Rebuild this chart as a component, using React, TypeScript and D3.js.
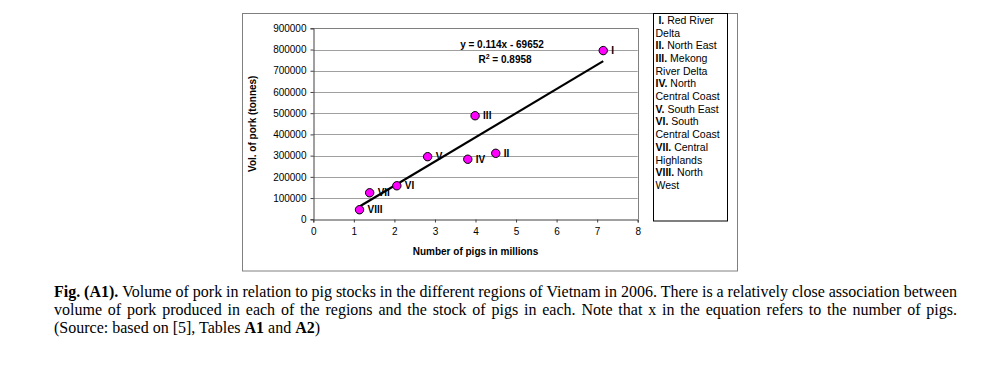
import { useRef, useEffect } from "react";
import * as d3 from "d3";

// regions of Vietnam, 2006
const regionIds = ["I", "II", "III", "IV", "V", "VI", "VII", "VIII"];
const pigsMillions = [7.15, 4.5, 3.99, 3.81, 2.82, 2.06, 1.39, 1.14];
const porkTonnes = [795000, 311000, 488000, 283000, 295000, 158000, 125000, 45000];

const legendLines: [string, string][] = [
  [" I.", " Red River"],
  ["", "Delta"],
  ["II.", " North East"],
  ["III.", " Mekong"],
  ["", "River Delta"],
  ["IV.", " North"],
  ["", "Central Coast"],
  ["V.", " South East"],
  ["VI.", " South"],
  ["", "Central Coast"],
  ["VII.", " Central"],
  ["", "Highlands"],
  ["VIII.", " North"],
  ["", "West"],
];

const slope = 0.114;
const intercept = -69652;
const equationText = "y = 0.114x - 69652";
const r2Text = "0.8958";

const xTicks = [0, 1, 2, 3, 4, 5, 6, 7, 8];
const yTicks = [0, 100000, 200000, 300000, 400000, 500000, 600000, 700000, 800000, 900000];

// caption
const captionLine1 = "Fig. (A1). Volume of pork in relation to pig stocks in the different regions of Vietnam in 2006. There is a relatively close association between";
const captionLine2 = "volume of pork produced in each of the regions and the stock of pigs in each. Note that x in the equation refers to the number of pigs.";
const captionBoldWords = ["Fig.", "(A1)."];

const App = () => {
  const svgRef = useRef<SVGSVGElement>(null);

  useEffect(() => {
    const svg = d3.select(svgRef.current);
    svg.selectAll("*").remove();

    const sans = "'Liberation Sans', Arial, sans-serif";
    const serif = "'Liberation Serif', 'Times New Roman', serif";

    const plot = { left: 313.3, right: 637.7, top: 28.3, bottom: 219.3 };

    const xScale = d3.scaleLinear().domain([0, 8]).range([plot.left, plot.right]);
    const yScale = d3.scaleLinear().domain([0, 900000]).range([plot.bottom, plot.top]);

    // outer chart frame
    svg
      .append("rect")
      .attr("x", 242.5)
      .attr("y", 13.5)
      .attr("width", 495)
      .attr("height", 257.5)
      .attr("fill", "white")
      .attr("stroke", "#808080")
      .attr("stroke-width", 1);

    // gridlines
    svg
      .append("g")
      .selectAll("line")
      .data(yTicks.slice(1))
      .join("line")
      .attr("x1", plot.left)
      .attr("x2", plot.right)
      .attr("y1", (d) => Math.round(yScale(d)) + 0.5)
      .attr("y2", (d) => Math.round(yScale(d)) + 0.5)
      .attr("stroke", "#a0a0a0")
      .attr("stroke-width", 1);

    // plot area border (top/right)
    svg
      .append("path")
      .attr(
        "d",
        `M${plot.left},${Math.round(plot.top) + 0.5}H${Math.round(plot.right) + 0.5}V${plot.bottom}`
      )
      .attr("fill", "none")
      .attr("stroke", "#808080");

    // axes
    const xAxis = d3
      .axisBottom(xScale)
      .tickValues(xTicks)
      .tickSize(3)
      .tickPadding(5)
      .tickFormat(d3.format("d"));
    const yAxis = d3
      .axisLeft(yScale)
      .tickValues(yTicks)
      .tickSize(3)
      .tickPadding(4)
      .tickFormat(d3.format("d"));

    const gx = svg
      .append("g")
      .attr("transform", `translate(0, ${Math.round(plot.bottom) + 0.5})`)
      .call(xAxis);
    const gy = svg
      .append("g")
      .attr("transform", `translate(${Math.round(plot.left) + 0.5}, 0)`)
      .call(yAxis);

    [gx, gy].forEach((g) => {
      g.selectAll("path, line").attr("stroke", "#404040");
      g.selectAll("text")
        .attr("font-family", sans)
        .attr("font-size", 10)
        .attr("fill", "#000");
    });

    // axis titles
    svg
      .append("text")
      .attr("x", xScale(4))
      .attr("y", 255)
      .attr("text-anchor", "middle")
      .attr("font-family", sans)
      .attr("font-size", 10)
      .attr("font-weight", "bold")
      .text("Number of pigs in millions");

    svg
      .append("text")
      .attr("transform", `translate(256, ${(plot.top + plot.bottom) / 2}) rotate(-90)`)
      .attr("text-anchor", "middle")
      .attr("font-family", sans)
      .attr("font-size", 10)
      .attr("font-weight", "bold")
      .text("Vol. of pork (tonnes)");

    // trend line from the regression equation
    const xExtent = d3.extent(pigsMillions) as [number, number];
    const trend = xExtent.map((x) => [x, slope * x * 1e6 + intercept]);
    svg
      .append("path")
      .datum(trend)
      .attr(
        "d",
        d3
          .line<number[]>()
          .x((d) => xScale(d[0]))
          .y((d) => yScale(d[1]))
      )
      .attr("fill", "none")
      .attr("stroke", "#000")
      .attr("stroke-width", 2.2);

    // equation
    svg
      .append("text")
      .attr("x", 502)
      .attr("y", 48)
      .attr("text-anchor", "middle")
      .attr("font-family", sans)
      .attr("font-size", 10)
      .attr("font-weight", "bold")
      .text(equationText);

    const r2 = svg
      .append("text")
      .attr("x", 505)
      .attr("y", 63)
      .attr("text-anchor", "middle")
      .attr("font-family", sans)
      .attr("font-size", 10)
      .attr("font-weight", "bold");
    r2.append("tspan").text("R");
    r2.append("tspan").attr("dy", -4).attr("font-size", 7).text("2");
    r2.append("tspan").attr("dy", 4).text(` = ${r2Text}`);

    // points
    const pts = regionIds.map((id, i) => ({ id, x: pigsMillions[i], y: porkTonnes[i] }));

    svg
      .append("g")
      .selectAll("circle")
      .data(pts)
      .join("circle")
      .attr("cx", (d) => xScale(d.x))
      .attr("cy", (d) => yScale(d.y))
      .attr("r", 4.2)
      .attr("fill", "#ff00ff")
      .attr("stroke", "#000")
      .attr("stroke-width", 1);

    svg
      .append("g")
      .selectAll("text")
      .data(pts)
      .join("text")
      .attr("x", (d) => xScale(d.x) + 8)
      .attr("y", (d) => yScale(d.y) + 3.5)
      .attr("font-family", sans)
      .attr("font-size", 10)
      .attr("font-weight", "bold")
      .text((d) => d.id);

    // legend
    svg
      .append("rect")
      .attr("x", 653.5)
      .attr("y", 13.5)
      .attr("width", 74)
      .attr("height", 207.5)
      .attr("fill", "white")
      .attr("stroke", "#000")
      .attr("stroke-width", 1);

    const legend = svg
      .append("g")
      .attr("font-family", sans)
      .attr("font-size", 10.5);
    legendLines.forEach(([b, t], i) => {
      const line = legend
        .append("text")
        .attr("x", 655.5)
        .attr("y", 23.8 + i * 12.7)
        .style("white-space", "pre");
      if (b) line.append("tspan").attr("font-weight", "bold").text(b);
      line.append("tspan").text(t);
    });

    // caption, justified lines
    const capLeft = 54;
    const capRight = 957;
    const capSize = 16;

    const justify = (text: string, y: number) => {
      const words = text.split(" ");
      const g = svg.append("g").attr("font-family", serif).attr("font-size", capSize);
      const nodes = words.map((w) =>
        g
          .append("text")
          .attr("y", y)
          .attr("font-weight", captionBoldWords.includes(w) ? "bold" : "normal")
          .text(w)
      );
      const widths = nodes.map((n) => (n.node() as SVGTextElement).getComputedTextLength());
      const gap = Math.max(2, (capRight - capLeft - d3.sum(widths)) / (words.length - 1));
      let x = capLeft;
      nodes.forEach((n, i) => {
        n.attr("x", x);
        x += widths[i] + gap;
      });
    };

    justify(captionLine1, 297);
    justify(captionLine2, 315);

    const src = svg
      .append("text")
      .attr("x", capLeft)
      .attr("y", 333)
      .attr("font-family", serif)
      .attr("font-size", capSize);
    src.append("tspan").text("(Source: based on [5], Tables ");
    src.append("tspan").attr("font-weight", "bold").text("A1");
    src.append("tspan").text(" and ");
    src.append("tspan").attr("font-weight", "bold").text("A2");
    src.append("tspan").text(")");
  }, []);

  return (
    <svg
      ref={svgRef}
      width={1000}
      height={371}
      style={{ position: "absolute", left: 0, top: 0, background: "white" }}
    ></svg>
  );
};

export default App;
